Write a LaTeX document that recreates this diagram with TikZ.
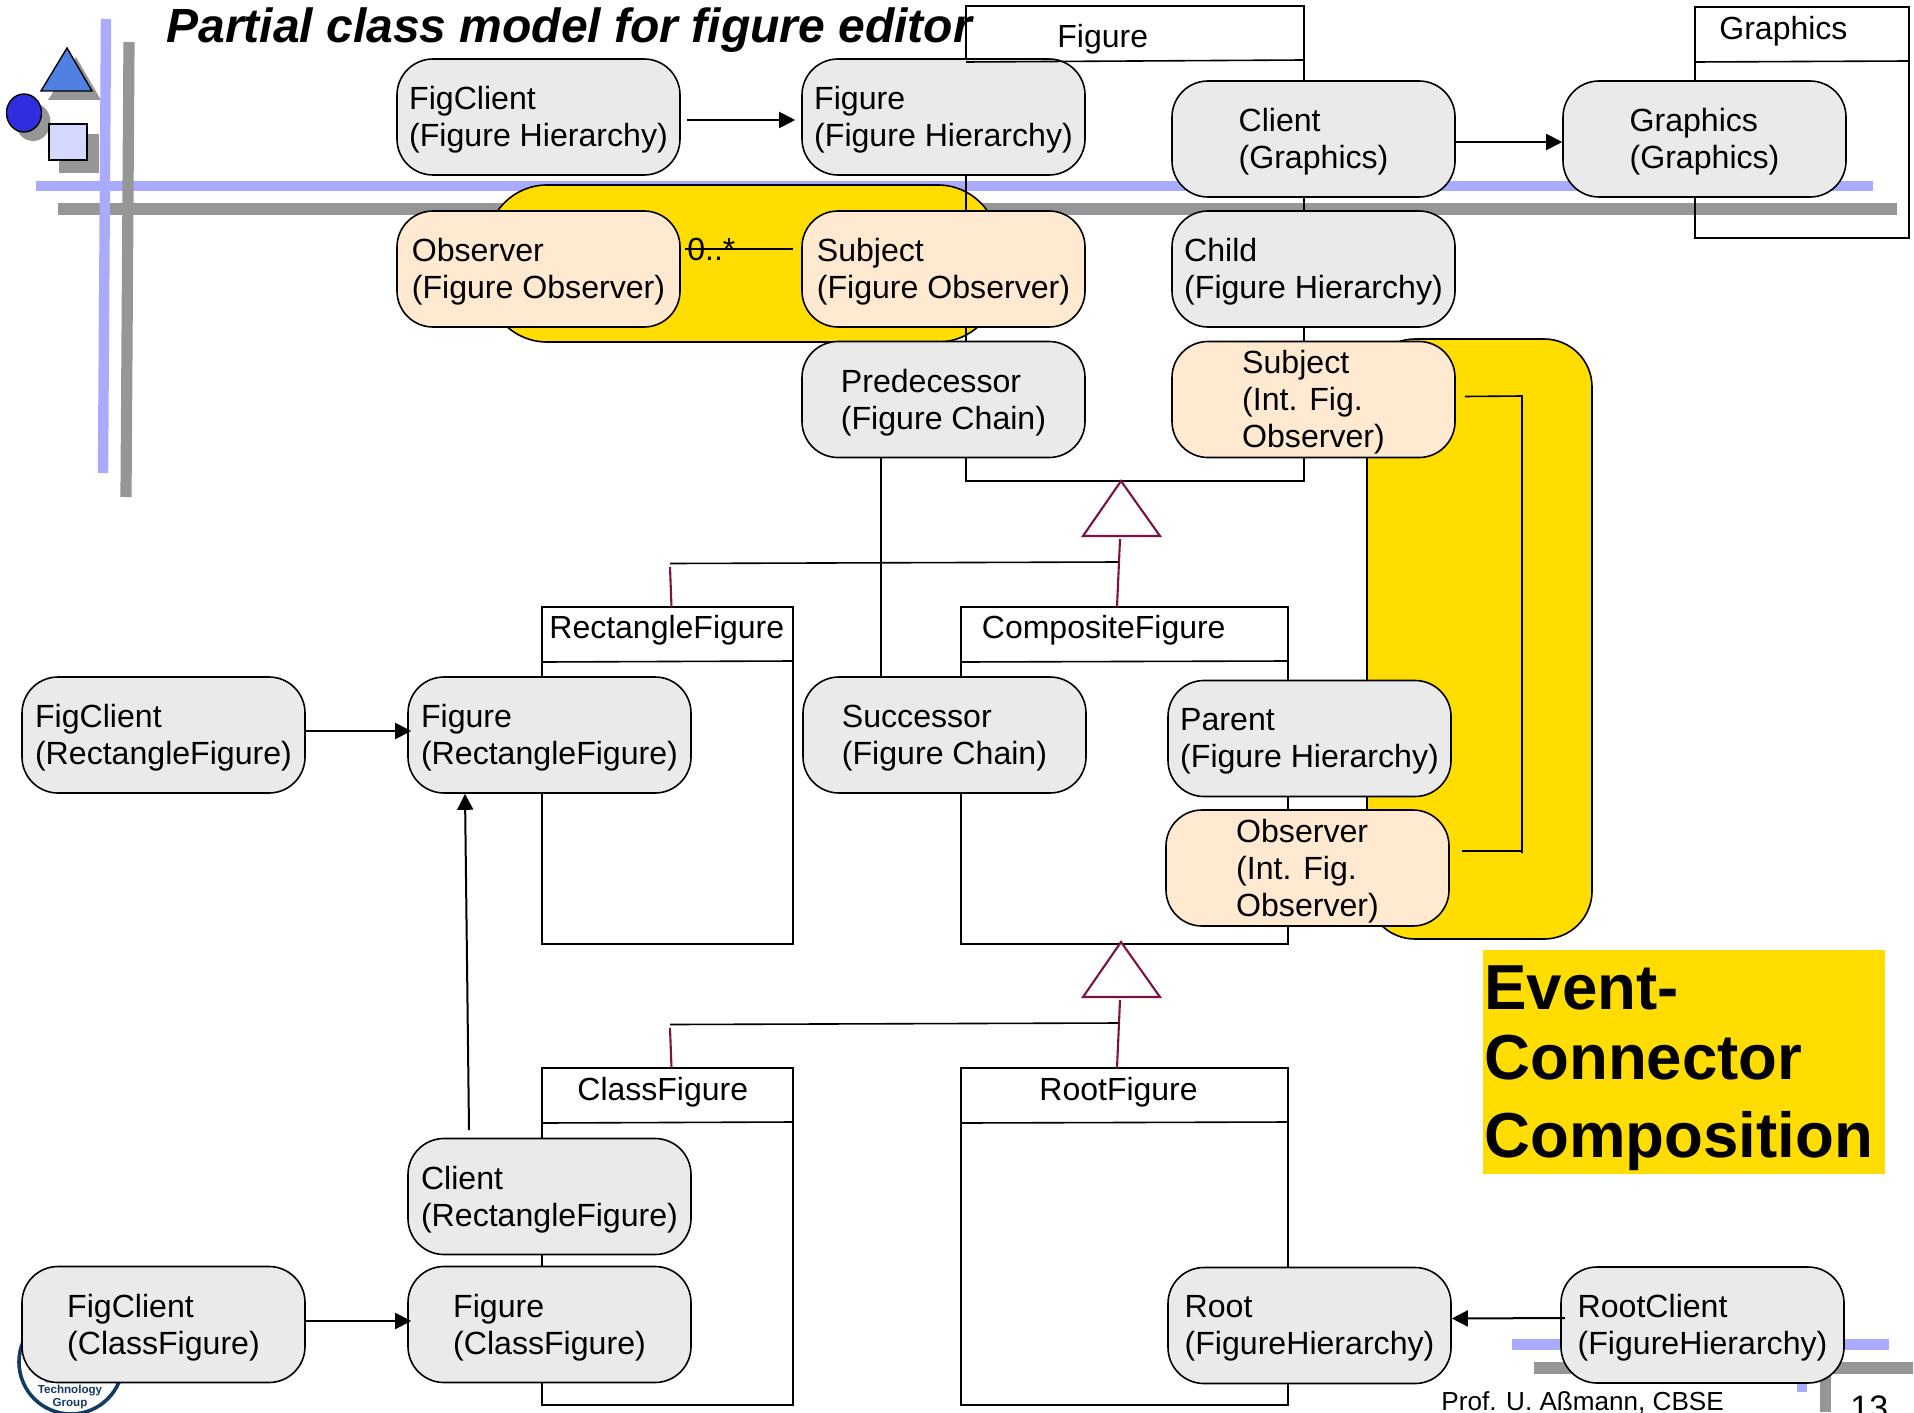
\documentclass[tikz,border=0pt]{standalone}
\usepackage{fontspec}
\setmainfont{Liberation Sans}
\usetikzlibrary{arrows.meta}

\definecolor{barblue}{HTML}{A9ABFF}
\definecolor{bargray}{HTML}{969696}
\definecolor{eventyellow}{HTML}{FFDD00}
\definecolor{rolegray}{HTML}{EAEAEA}
\definecolor{roleorange}{HTML}{FFE9D1}
\definecolor{genred}{HTML}{7D1145}
\definecolor{logoblue}{HTML}{123A63}

\tikzset{
	rolebox/.style={draw=black,line width=0.8pt,rounded corners=18pt,fill=rolegray,minimum width=141.5pt,minimum height=58pt,inner sep=0pt,align=left,text depth=0.4pt,font=\fontsize{16.05}{18.4}\selectfont},
	eventrole/.style={rolebox,fill=roleorange},
	classbox/.style={draw=black,line width=0.8pt,inner sep=0pt,outer sep=0pt},
	classname/.style={anchor=base west,inner sep=0pt,font=\fontsize{16}{18.3}\selectfont},
	blueline/.style={draw=barblue,line width=5.2pt},
	grayline/.style={draw=bargray,line width=5.6pt},
	joinblob/.style={draw=black,line width=0.8pt,rounded corners=30pt,fill=eventyellow},
	callarrow/.style={draw=black,line width=1pt,-{Triangle[length=8pt,width=8pt]}},
	assoc/.style={draw=black,line width=0.8pt},
	genline/.style={draw=genred,line width=1.05pt}
}

\begin{document}
\begin{tikzpicture}[x=0.5pt,y=-0.5pt]
	\useasboundingbox (0,0) rectangle (1914,1412);
	\clip (0,0) rectangle (1914,1412);

	% slide background
	\draw[blueline] (36,186) -- (1873,186);
	\draw[grayline] (58,209) -- (1897,209);
	\draw[blueline] (106,19) -- (103,473);
	\draw[grayline] (129,42) -- (126,497);
	\draw[blueline] (1512,1344.5) -- (1889,1344.5);
	\draw[grayline] (1534,1368) -- (1913,1368);
	\draw[blueline] (1802,1340) -- (1802,1392);
	\draw[grayline] (1825.5,1368) -- (1825.5,1412);

	\fill[bargray] (76,57) -- (48,100) -- (101,100) -- cycle;
	\fill[bargray] (33,122) ellipse [x radius=17.5,y radius=19];
	\fill[bargray] (59,134) rectangle (99,173);
	\draw[black,line width=0.7pt,fill={rgb,255:red,80;green,128;blue,226}] (67,48) -- (41,91) -- (92,91) -- cycle;
	\draw[black,line width=0.7pt,fill={rgb,255:red,48;green,44;blue,224}] (24,113) ellipse [x radius=17.5,y radius=19];
	\draw[black,line width=0.7pt,fill={rgb,255:red,213;green,216;blue,255}] (49,124) rectangle (87,160);

	\draw[logoblue,line width=1.8pt] (71,1362) circle [radius=52];
	\node[inner sep=0pt,text=barblue,font=\fontsize{8}{8}\selectfont] (LogoBits) at (70,1378) {010100};
	\node[inner sep=0pt,align=center,text=logoblue,font=\bfseries\fontsize{5.8}{6.6}\selectfont] (LogoText) at (70,1397) {Technology\\Group};

	\node[anchor=base west,inner sep=0pt,font=\fontsize{13.05}{15}\selectfont] (Author) at (1441,1410.5) {Prof. U. Aßmann, CBSE};
	\node[anchor=base west,inner sep=0pt,font=\fontsize{17}{18}\selectfont] (PageNo) at (1850,1419) {13};

	% event connectors
	\draw[joinblob] (487,185) rectangle (998,342);
	\draw[joinblob,rounded corners=24pt] (1367,339) rectangle (1592,939);

	% classes
	\node[classbox,minimum width=169pt,minimum height=237.5pt] (FigureC) at (1135,243.5) {};
	\node[classbox,minimum width=107pt,minimum height=115.5pt] (GraphicsC) at (1802,122.5) {};
	\node[classbox,minimum width=125.5pt,minimum height=168.5pt] (RectangleC) at (667.5,775.5) {};
	\node[classbox,minimum width=163.5pt,minimum height=168.5pt] (CompositeC) at (1124.5,775.5) {};
	\node[classbox,minimum width=125.5pt,minimum height=168.5pt] (ClassC) at (667.5,1236.5) {};
	\node[classbox,minimum width=163.5pt,minimum height=168.5pt] (RootC) at (1124.5,1236.5) {};

	\node[classname] (FigureN) at (1057,48) {Figure};
	\node[classname] (GraphicsN) at (1719,40) {Graphics};
	\node[classname] (RectangleN) at (549,638) {RectangleFigure};
	\node[classname] (CompositeN) at (981.5,638) {CompositeFigure};
	\node[classname] (ClassN) at (577,1100) {ClassFigure};
	\node[classname] (RootN) at (1039,1100) {RootFigure};

	\node[anchor=base west,inner sep=0pt,font=\bfseries\itshape\fontsize{24}{26}\selectfont] (Title) at (166,43) {Partial class model for figure editor};

	% roles
	\node[rolebox] (FigClientH) at (538.5,117) {FigClient\\(Figure Hierarchy)};
	\node[rolebox] (FigureH) at (943.5,117) {Figure\\(Figure Hierarchy)};
	\node[rolebox] (ClientG) at (1313.5,139) {Client\\(Graphics)};
	\node[rolebox] (GraphicsG) at (1704.5,139) {Graphics\\(Graphics)};
	\node[eventrole] (ObserverF) at (538.5,269) {Observer\\(Figure Observer)};
	\node[eventrole] (SubjectF) at (943.5,269) {Subject\\(Figure Observer)};
	\node[rolebox] (ChildH) at (1313.5,269) {Child\\(Figure Hierarchy)};
	\node[rolebox] (PredecessorC) at (943.5,399.5) {Predecessor\\(Figure Chain)};
	\node[eventrole] (SubjectI) at (1313.5,399.5) {Subject\\(Int. Fig.\\Observer)};
	\node[rolebox] (FigClientR) at (163.5,735) {FigClient\\(RectangleFigure)};
	\node[rolebox] (FigureR) at (549.5,735) {Figure\\(RectangleFigure)};
	\node[rolebox] (SuccessorC) at (944.5,735) {Successor\\(Figure Chain)};
	\node[rolebox] (ParentH) at (1309.5,738.5) {Parent\\(Figure Hierarchy)};
	\node[eventrole] (ObserverI) at (1307.5,868) {Observer\\(Int. Fig.\\Observer)};
	\node[rolebox] (ClientR) at (549.5,1196.5) {Client\\(RectangleFigure)};
	\node[rolebox] (FigClientK) at (163.5,1324.5) {FigClient\\(ClassFigure)};
	\node[rolebox] (FigureK) at (549.5,1324.5) {Figure\\(ClassFigure)};
	\node[rolebox] (RootH) at (1309.5,1325.5) {Root\\(FigureHierarchy)};
	\node[rolebox] (RootClientH) at (1702.5,1325) {RootClient\\(FigureHierarchy)};

	% class headers
	\draw[assoc] (FigureC.west |- 0,62) -- (FigureC.east |- 0,60);
	\draw[assoc] (GraphicsC.west |- 0,62) -- (GraphicsC.east |- 0,61);
	\draw[assoc] (RectangleC.west |- 0,662) -- (RectangleC.east |- 0,661);
	\draw[assoc] (CompositeC.west |- 0,662) -- (CompositeC.east |- 0,661);
	\draw[assoc] (ClassC.west |- 0,1123) -- (ClassC.east |- 0,1122);
	\draw[assoc] (RootC.west |- 0,1123) -- (RootC.east |- 0,1122);

	% calls
	\draw[callarrow] ([xshift=3pt,yshift=-1.5pt]FigClientH.east) -- ([xshift=-3pt,yshift=-1.5pt]FigureH.west);
	\draw[callarrow] ([yshift=-1.5pt]ClientG.east) -- ([yshift=-1.5pt]GraphicsG.west);
	\draw[callarrow] ([yshift=2pt]FigClientR.east) -- ([xshift=2pt,yshift=2pt]FigureR.west);
	\draw[callarrow] ([yshift=1.75pt]FigClientK.east) -- ([xshift=2pt,yshift=1.75pt]FigureK.west);
	\draw[callarrow] ([xshift=2.5pt,yshift=3.5pt]RootClientH.west) -- ([yshift=3.5pt]RootH.east);
	\coordinate (ClientTail) at (469,1130);
	\draw[callarrow] (ClientTail) -- (FigureR.south -| 465,0);

	% multiplicity and chain
	\node[anchor=base west,inner sep=0pt,font=\fontsize{16}{18}\selectfont] (ObsMult) at (687,260) {0..*};
	\draw[assoc] ([xshift=2pt,yshift=10pt]ObserverF.east) -- ([xshift=-4pt,yshift=10pt]SubjectF.west);
	\draw[assoc] (PredecessorC.south -| 881,0) -- (SuccessorC.north -| 881,0);

	% event wiring
	\coordinate (WireTop) at (1522,396);
	\coordinate (WireBottom) at (1522,853);
	\draw[assoc] ([xshift=4.5pt,yshift=1.5pt]SubjectI.east) -- (WireTop) -- (WireBottom);
	\draw[assoc] ([xshift=6pt,yshift=8.5pt]ObserverI.east) -- (1522,851);

	% inheritance
	\foreach \yo/\nm/\sub/\sup in {0/A/CompositeC/RectangleC,461/B/RootC/ClassC} {
		\draw[genline,fill=white] (1121,481+\yo) -- (1083,536+\yo) -- (1160,536+\yo) -- cycle;
		\coordinate (Tri\nm) at (1120,539+\yo);
		\coordinate (Fork\nm) at (1118.5,562+\yo);
		\coordinate (Left\nm) at (670,563.5+\yo);
		\coordinate (Stub\nm) at (670,567+\yo);
		\draw[genline] (Tri\nm) -- (\sub.north -| 1117,0);
		\draw[assoc] (Fork\nm) -- (Left\nm);
		\draw[genline] (Stub\nm) -- (\sup.north -| 671.5,0);
	}

	% title box
	\node[fill=eventyellow,inner sep=0pt,minimum width=201pt,minimum height=112pt] (EventBox) at (1684,1062) {};
	\node[anchor=west,inner sep=0pt,align=left,font=\bfseries\fontsize{31.8}{36.25}\selectfont] (EventText) at (1484,1068.5) {Event-\\[-1.45pt]Connector\\[2.75pt]Composition};
\end{tikzpicture}
\end{document}
